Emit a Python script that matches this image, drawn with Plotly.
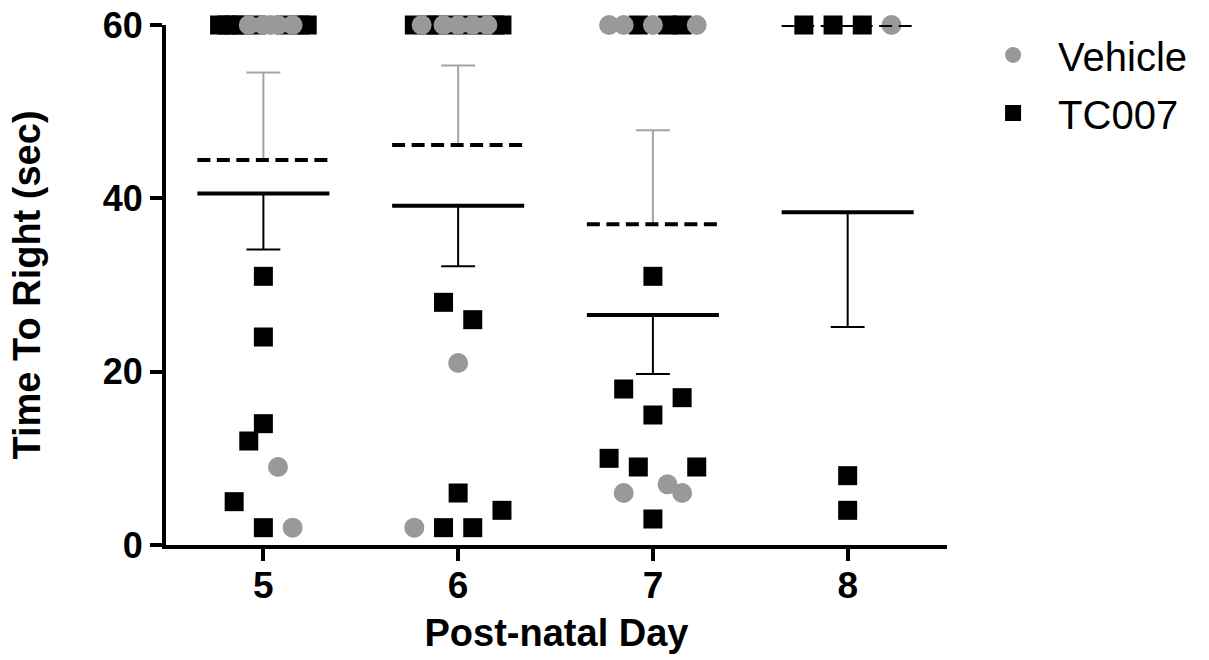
import numpy as np
import plotly.graph_objects as go

# ---------------- data ----------------
days = [5, 6, 7, 8]
day_labels = ["5", "6", "7", "8"]
y_ticks = [0, 20, 40, 60]
group_names = {"V": "Vehicle", "T": "TC007"}

# One record per pup and day, in data-entry order ("V" = Vehicle, "T" = TC007),
# time to right in seconds (60 = cut-off).
pnd5_group = ["T", "T", "T", "T", "V", "T", "V", "V", "V", "T", "V", "T", "T",
              "T", "T", "V", "T", "V", "T", "T", "T"]
pnd5_time = [60, 60, 60, 60, 60, 60, 60, 60, 60, 60, 60, 60, 60,
             5, 2, 2, 12, 9, 14, 24, 31]

pnd6_group = ["T", "V", "T", "T", "V", "T", "V", "T", "V", "T", "V", "T", "T",
              "V", "T", "T", "T", "T", "V", "T", "T"]
pnd6_time = [60, 60, 60, 60, 60, 60, 60, 60, 60, 60, 60, 60, 60,
             2, 2, 2, 4, 6, 21, 28, 26]

pnd7_group = ["V", "V", "T", "V", "T", "T", "V",
              "V", "T", "V", "T", "T", "V", "T", "T", "T", "T", "T"]
pnd7_time = [60, 60, 60, 60, 60, 60, 60,
             6, 3, 6, 10, 9, 7, 9, 18, 15, 17, 31]

pnd8_group = ["T", "T", "T", "V", "T", "T"]
pnd8_time = [60, 60, 60, 60, 8, 4]

records = {5: (pnd5_group, pnd5_time), 6: (pnd6_group, pnd6_time),
           7: (pnd7_group, pnd7_time), 8: (pnd8_group, pnd8_time)}

# ---------------- style ----------------
GRAY = "#999999"
GRAY_BAR = "#a3a3a3"
BLACK = "#000000"
FONT = "Liberation Sans, Arial, sans-serif"

ROW_SPAN = 3.5      # values closer than this share one horizontal row
UNIT = 0.075        # horizontal spreading unit (in days)
MAX_HALF = 3        # max half-width of a row, in units
MEAN_HALF = 0.339   # half-length of mean line (days)
CAP_HALF = 0.087    # half-width of SEM caps (days)


def spread_offsets(values):
    """Column scatter layout: group close values into rows, centre each row."""
    values = np.asarray(values, dtype=float)
    order = np.argsort(values, kind="stable")
    rows, cur, start = [], [order[0]], values[order[0]]
    for idx in order[1:]:
        if values[idx] - start < ROW_SPAN:
            cur.append(idx)
        else:
            rows.append(cur)
            cur, start = [idx], values[idx]
    rows.append(cur)
    off = np.zeros(len(values))
    for row in rows:
        row = sorted(row)
        n = len(row)
        if n < 2:
            continue
        step = min(2 * UNIT, 2 * MAX_HALF * UNIT / (n - 1))
        for j, idx in enumerate(row):
            off[idx] = (j - (n - 1) / 2) * step
    return off


pts = {"T": ([], []), "V": ([], [])}
stats = {"T": [], "V": []}
for d in days:
    g, t = records[d]
    off = spread_offsets(t)
    for gi, ti, oi in zip(g, t, off):
        pts[gi][0].append(d + oi)
        pts[gi][1].append(ti)
    for key in ("T", "V"):
        vals = np.array([ti for gi, ti in zip(g, t) if gi == key], dtype=float)
        mean = vals.mean()
        sem = vals.std(ddof=1) / np.sqrt(len(vals)) if len(vals) > 1 else np.nan
        stats[key].append((d, mean, sem))

fig = go.Figure()

fig.add_trace(go.Scatter(
    x=pts["T"][0], y=pts["T"][1], mode="markers", name=group_names["T"],
    marker=dict(symbol="square", size=19, color=BLACK, line=dict(width=0)),
    cliponaxis=False, legendrank=2, legendgroup="T"))
fig.add_trace(go.Scatter(
    x=pts["V"][0], y=pts["V"][1], mode="markers", name=group_names["V"],
    marker=dict(symbol="circle", size=20, color=GRAY, line=dict(width=0)),
    cliponaxis=False, legendrank=1, legendgroup="V"))


def sem_lines(key, direction):
    xs, ys = [], []
    for d, m, s in stats[key]:
        if np.isnan(s) or s == 0:
            continue
        e = m + direction * s
        xs += [d, d, None, d - CAP_HALF, d + CAP_HALF, None]
        ys += [m, e, None, e, e, None]
    return xs, ys


def mean_lines(key):
    xs, ys = [], []
    for d, m, s in stats[key]:
        xs += [d - MEAN_HALF, d + MEAN_HALF, None]
        ys += [m, m, None]
    return xs, ys


x, y = sem_lines("T", -1)
fig.add_trace(go.Scatter(x=x, y=y, mode="lines", line=dict(color=BLACK, width=2),
                         showlegend=False, hoverinfo="skip", cliponaxis=False))
x, y = sem_lines("V", +1)
fig.add_trace(go.Scatter(x=x, y=y, mode="lines", line=dict(color=GRAY_BAR, width=2),
                         showlegend=False, hoverinfo="skip", cliponaxis=False))
x, y = mean_lines("T")
fig.add_trace(go.Scatter(x=x, y=y, mode="lines", line=dict(color=BLACK, width=4),
                         showlegend=False, hoverinfo="skip", cliponaxis=False))
x, y = mean_lines("V")
fig.add_trace(go.Scatter(x=x, y=y, mode="lines",
                         line=dict(color=BLACK, width=4, dash="13px,6.5px"),
                         showlegend=False, hoverinfo="skip", cliponaxis=False))

fig.update_layout(
    width=1209, height=660,
    margin=dict(l=166, r=262, t=25, b=115, autoexpand=False),
    paper_bgcolor="white", plot_bgcolor="white",
    font=dict(family=FONT, color=BLACK),
    legend=dict(x=1.027, y=1.005, xanchor="left", yanchor="top",
                font=dict(family=FONT, size=40, color=BLACK),
                tracegroupgap=3, itemwidth=80, itemsizing="trace",
                bgcolor="rgba(0,0,0,0)"),
)

fig.update_xaxes(
    range=[4.5, 8.51], tickvals=days, ticktext=day_labels,
    showline=True, linewidth=4, linecolor=BLACK,
    ticks="outside", ticklen=12, tickwidth=4, tickcolor=BLACK,
    tickfont=dict(family=FONT, size=37, color=BLACK, weight="bold"),
    ticklabelstandoff=-7,
    showgrid=False, zeroline=False,
    title=dict(text="Post-natal Day", standoff=15,
               font=dict(family=FONT, size=38, color=BLACK, weight="bold")),
)
fig.update_yaxes(
    range=[0, 60], tickvals=y_ticks, ticktext=[str(v) for v in y_ticks],
    showline=True, linewidth=4, linecolor=BLACK,
    ticks="outside", ticklen=12, tickwidth=4, tickcolor=BLACK,
    tickfont=dict(family=FONT, size=36, color=BLACK, weight="bold"),
    showgrid=False, zeroline=False,
    title=dict(text="Time To Right (sec)", standoff=51,
               font=dict(family=FONT, size=38, color=BLACK, weight="bold")),
)

fig.write_html("out.html")
